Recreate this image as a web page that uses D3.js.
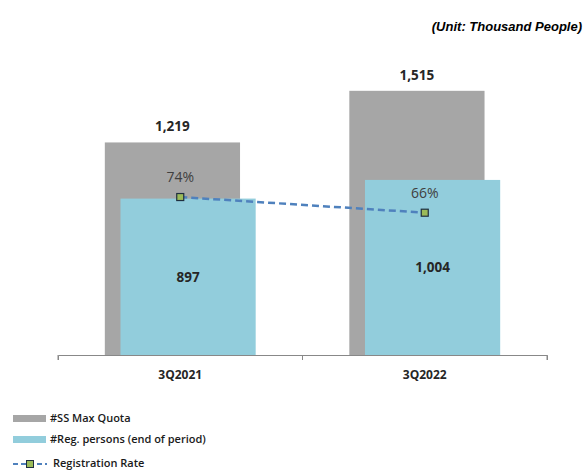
<!DOCTYPE html>
<html><head><meta charset="utf-8">
<script src="https://cdn.jsdelivr.net/npm/d3@7"></script>
<style>body{margin:0;background:#fff}svg{display:block}</style>
</head><body>
<svg id="c" width="585" height="470"></svg>
<script>
const categories = ["3Q2021", "3Q2022"];
const maxQuota = [1219, 1515];
const regPersons = [897, 1004];
const regRate = [0.736, 0.663];
const rateLabels = ["74%", "66%"];
const legendLabels = ["#SS Max Quota", "#Reg. persons (end of period)", "Registration Rate"];

const svg = d3.select("#c");
const W = 585, H = 470;
const m = {left: 58, right: 38, top: 76, bottom: 115};
const x = d3.scaleBand().domain(categories).range([m.left, W - m.right]).padding(0);
const y = d3.scaleLinear().domain([0, 1600]).range([H - m.bottom, m.top]);
const y2 = d3.scaleLinear().domain([0, 1.3]).range([H - m.bottom, m.top]);
const bw = x.bandwidth() * 0.553;
const off = x.bandwidth() * 0.032;
const cx = c => x(c) + x.bandwidth() / 2;

const labelFont = "'Open Sans', 'DejaVu Sans', sans-serif";

// axis
const xAxis = d3.axisBottom(x).tickSize(5).tickSizeOuter(5).tickFormat("");
const gx = svg.append("g").attr("transform", `translate(0,${H - m.bottom})`).call(xAxis);
gx.select(".domain").attr("stroke", "#888");
gx.selectAll(".tick").remove();
const bounds = [m.left, (m.left + W - m.right) / 2, W - m.right];
svg.selectAll(".bt").data(bounds).enter().append("line")
  .attr("x1", d => d).attr("x2", d => d)
  .attr("y1", H - m.bottom).attr("y2", H - m.bottom + 5)
  .attr("stroke", "#888");

// gray bars
svg.selectAll(".g").data(categories).enter().append("rect")
  .attr("x", (c) => cx(c) - off - bw / 2)
  .attr("width", bw)
  .attr("y", (c, i) => y(maxQuota[i]))
  .attr("height", (c, i) => y(0) - y(maxQuota[i]))
  .attr("fill", "#A6A6A6");
// blue bars
svg.selectAll(".b").data(categories).enter().append("rect")
  .attr("x", (c) => cx(c) + off - bw / 2)
  .attr("width", bw)
  .attr("y", (c, i) => y(regPersons[i]))
  .attr("height", (c, i) => y(0) - y(regPersons[i]))
  .attr("fill", "#92CDDC");

// gray labels
svg.selectAll(".gl").data(categories).enter().append("text")
  .attr("x", c => cx(c) - off)
  .attr("y", (c, i) => y(maxQuota[i]) - 11)
  .attr("text-anchor", "middle")
  .attr("font-family", labelFont).attr("font-weight", "bold").attr("font-size", 13.5)
  .attr("fill", "#262626")
  .text((c, i) => d3.format(",")(maxQuota[i]));
// blue labels
svg.selectAll(".bl").data(categories).enter().append("text")
  .attr("x", c => cx(c) + off)
  .attr("y", (c, i) => (y(regPersons[i]) + y(0)) / 2 + 5)
  .attr("text-anchor", "middle")
  .attr("font-family", labelFont).attr("font-weight", "bold").attr("font-size", 13.5)
  .attr("fill", "#262626")
  .text((c, i) => d3.format(",")(regPersons[i]));

// line
const line = d3.line().x((d, i) => cx(categories[i])).y(d => y2(d));
svg.append("path").datum(regRate).attr("d", line)
  .attr("fill", "none").attr("stroke", "#4F81BD").attr("stroke-width", 2.5)
  .attr("stroke-dasharray", "7,4");
svg.selectAll(".mk").data(regRate).enter().append("rect")
  .attr("x", (d, i) => cx(categories[i]) - 3.5)
  .attr("y", d => y2(d) - 3.5)
  .attr("width", 7).attr("height", 7)
  .attr("fill", "#9BBB59").attr("stroke", "#1F2F3F").attr("stroke-width", 1.2);
svg.selectAll(".rl").data(regRate).enter().append("text")
  .attr("x", (d, i) => cx(categories[i]))
  .attr("y", d => y2(d) - 15)
  .attr("text-anchor", "middle")
  .attr("font-family", labelFont).attr("font-size", 14)
  .attr("fill", "#404040")
  .text((d, i) => rateLabels[i]);

// x labels
svg.selectAll(".xl").data(categories).enter().append("text")
  .attr("x", c => cx(c))
  .attr("y", H - m.bottom + 24)
  .attr("text-anchor", "middle")
  .attr("font-family", labelFont).attr("font-weight", "bold").attr("font-size", 12)
  .attr("fill", "#262626")
  .text(c => c);

// unit title
svg.append("text").attr("x", 582).attr("y", 31).attr("text-anchor", "end")
  .attr("font-family", "'Liberation Sans', Arial, sans-serif")
  .attr("font-weight", "bold").attr("font-style", "italic").attr("font-size", 13)
  .attr("fill", "#000").text("(Unit: Thousand People)");

// legend
const lg = svg.append("g");
lg.append("rect").attr("x", 13).attr("y", 415).attr("width", 33).attr("height", 7).attr("fill", "#A6A6A6");
lg.append("rect").attr("x", 13).attr("y", 436).attr("width", 33).attr("height", 7).attr("fill", "#92CDDC");
lg.append("line").attr("x1", 13).attr("x2", 47).attr("y1", 464).attr("y2", 464)
  .attr("stroke", "#4F81BD").attr("stroke-width", 2).attr("stroke-dasharray", "5,3");
lg.append("rect").attr("x", 26.5).attr("y", 460.5).attr("width", 7).attr("height", 7)
  .attr("fill", "#9BBB59").attr("stroke", "#1F2F3F").attr("stroke-width", 1);
const ly = [422, 443, 467];
const lx = [50, 50, 53];
lg.selectAll(".lt").data(legendLabels).enter().append("text")
  .attr("x", (d, i) => lx[i]).attr("y", (d, i) => ly[i])
  .attr("font-family", labelFont).attr("font-weight", 600).attr("font-size", 11)
  .attr("fill", "#1a1a1a")
  .text(d => d);
</script>
</body></html>
